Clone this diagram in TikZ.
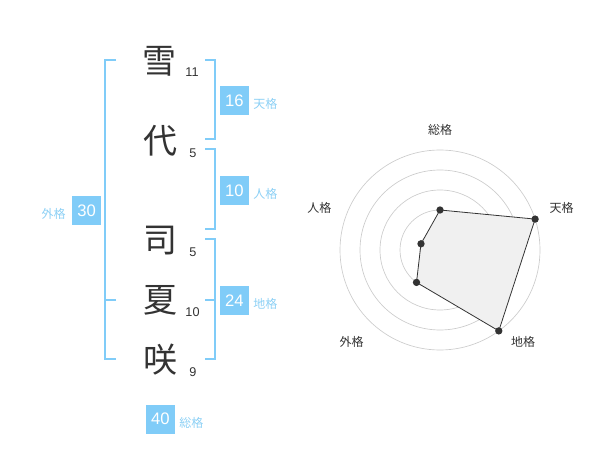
\documentclass[tikz,border=0pt]{standalone}
\usepackage{fontspec}
\setmainfont{Liberation Sans}
\newfontfamily\jp{Noto Sans CJK JP}
\definecolor{boxblue}{HTML}{80CCF8}
\definecolor{lblblue}{HTML}{8CD0F5}
\definecolor{ink}{HTML}{333333}
\definecolor{ring}{HTML}{CCCCCC}
\definecolor{polyfill}{HTML}{F0F0F0}
\begin{document}
\begin{tikzpicture}[x=0.75pt,y=-0.75pt,
  kanji/.style={inner sep=0pt,text=ink,font=\jp\fontsize{25.5}{25.5}\selectfont},
  strokes/.style={inner sep=0pt,text=ink,font=\fontsize{9.5}{9.5}\selectfont},
  valbox/.style={fill=boxblue,text=white,minimum width=21.75pt,minimum height=21.75pt,inner sep=0pt,font=\fontsize{12.5}{12.5}\selectfont},
  kaku/.style={inner sep=0pt,text=lblblue,font=\jp\fontsize{9}{9}\selectfont},
  brk/.style={draw=boxblue,line width=1.5pt},
  radlbl/.style={inner sep=0pt,text=ink,font=\jp\fontsize{9}{9}\selectfont},
  dot/.style={circle,fill=ink,inner sep=0pt,minimum size=5.5pt}]
\useasboundingbox (0,0) rectangle (600,470);
% characters
\node[kanji] (k1) at (159,61) {雪};
\node[kanji] (k2) at (160,141) {代};
\node[kanji] (k3) at (160,240.5) {司};
\node[kanji] (k4) at (160,300) {夏};
\node[kanji] (k5) at (160,360) {咲};
% stroke counts
\node[strokes] (s1) at (192,72.5) {11};
\node[strokes] (s2) at (193,153) {5};
\node[strokes] (s3) at (193,252.5) {5};
\node[strokes] (s4) at (192.5,312) {10};
\node[strokes] (s5) at (193,372.5) {9};
% brackets
\coordinate (t1) at (205,60); \coordinate (t2) at (205,139.3);
\draw[brk] (t1) -| (214.5,139.3) -- (t2);
\coordinate (j1) at (205,149.3); \coordinate (j2) at (205,229.3);
\draw[brk] (j1) -| (214.5,229.3) -- (j2);
\coordinate (c1) at (205,239.3); \coordinate (c2) at (205,359.3); \coordinate (c3) at (205,300);
\draw[brk] (c1) -| (214.5,359.3) -- (c2);
\draw[brk] (c3) -- (214.5,300);
\coordinate (g1) at (116,60); \coordinate (g2) at (116,359.3); \coordinate (g3) at (116,300);
\draw[brk] (g1) -| (105,359.3) -- (g2);
\draw[brk] (g3) -- (105,300);
% value boxes
\node[valbox] (v16) at (234.5,100.5) {16};
\node[kaku,anchor=west] (l16) at (253,104) {天格};
\node[valbox] (v10) at (234.5,190.5) {10};
\node[kaku,anchor=west] (l10) at (253,194) {人格};
\node[valbox] (v24) at (234.5,300.5) {24};
\node[kaku,anchor=west] (l24) at (253,304) {地格};
\node[valbox] (v30) at (86.7,210.3) {30};
\node[kaku,anchor=east] (l30) at (66,213.5) {外格};
\node[valbox] (v40) at (160.5,419) {40};
\node[kaku,anchor=west] (l40) at (179,422.5) {総格};
% radar
\coordinate (ctr) at (440,250);
\foreach \r in {20,40,60,80,100}
  \draw[ring,line width=0.5pt] (ctr) circle[radius=\r];
\node[circle,fill=ring,inner sep=0pt,minimum size=5pt] (cdot) at (ctr) {};
\coordinate (pS) at (440,210);
\coordinate (pT) at (535.1,219.1);
\coordinate (pC) at (498.8,330.9);
\coordinate (pG) at (416.5,282.4);
\coordinate (pJ) at (421.0,243.8);
\draw[fill=polyfill,draw=ink,line width=0.6pt] (pS) -- (pT) -- (pC) -- (pG) -- (pJ) -- cycle;
\foreach \p in {pS,pT,pC,pG,pJ} \node[dot] at (\p) {};
\node[radlbl] (rS) at (440,130) {総格};
\node[radlbl] (rT) at (561.7,208.3) {天格};
\node[radlbl] (rC) at (523,341.7) {地格};
\node[radlbl] (rG) at (351.7,341.7) {外格};
\node[radlbl] (rJ) at (319.3,208.3) {人格};
\end{tikzpicture}
\end{document}
